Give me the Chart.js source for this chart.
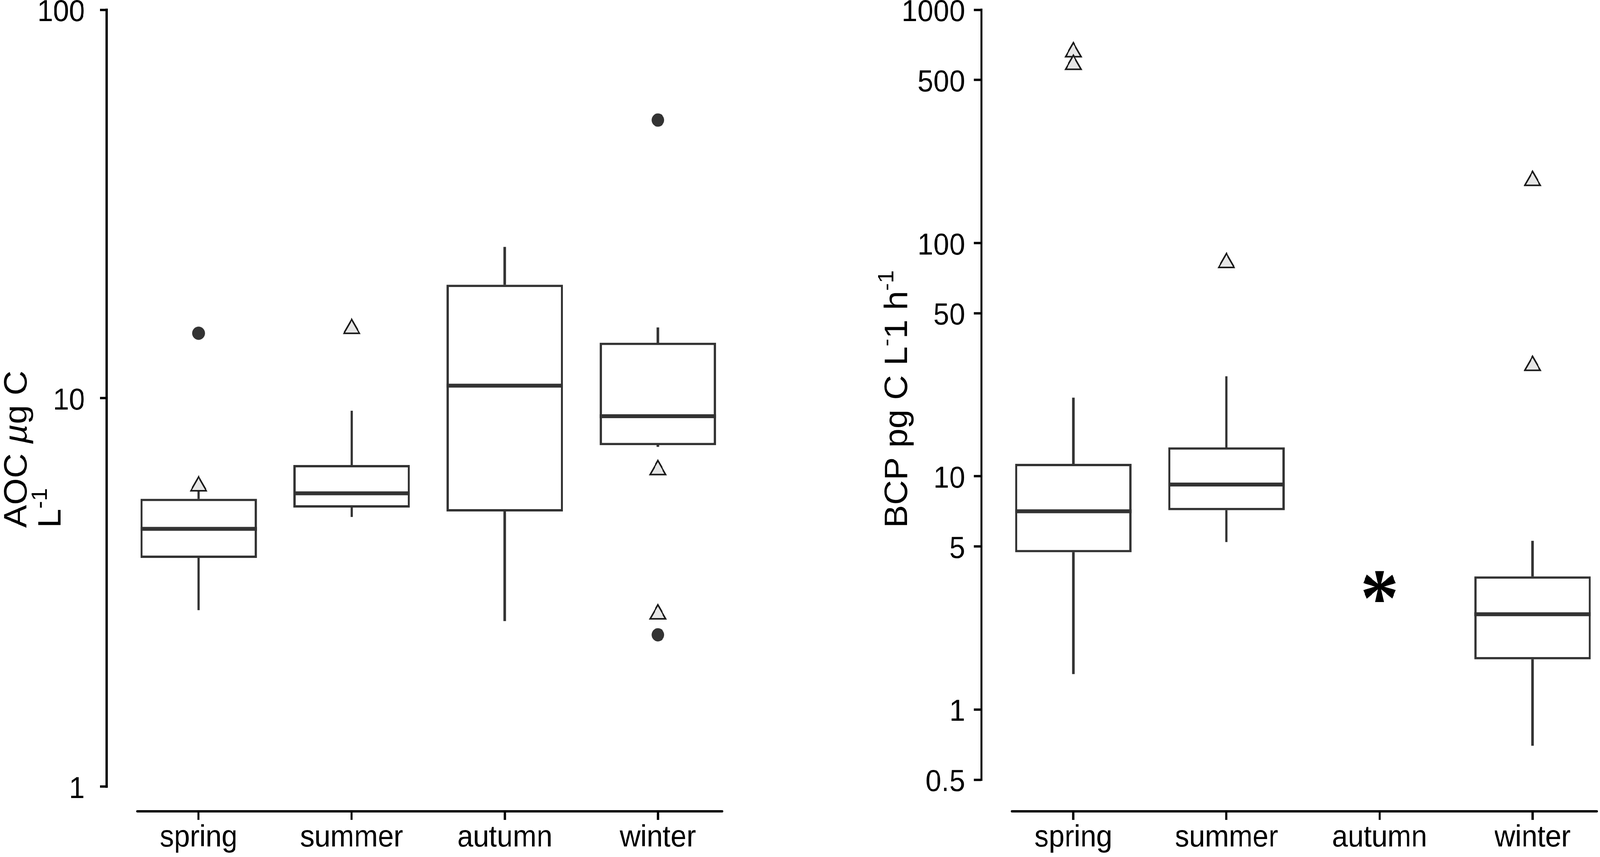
<!DOCTYPE html>
<html><head><meta charset="utf-8">
<script src="https://cdn.jsdelivr.net/npm/chart.js@4.4.1/dist/chart.umd.min.js"></script>
<style>
html,body{margin:0;padding:0;background:#fff;overflow:hidden;}
#stage{position:absolute;left:0;top:0;width:4317px;height:2195px;transform-origin:0 0;background:#fff;}
canvas{position:absolute;top:0;}
#c1{left:0}
#c2{left:2158px}
</style></head><body>
<div id="stage">
<canvas id="c1" width="2158" height="2195"></canvas>
<canvas id="c2" width="2159" height="2195"></canvas>
</div>
<script>
const seasons = ['spring','summer','autumn','winter'];

// Left panel: AOC (µg C L-1)
const aocWhiskerLow  = [2.85, 4.95, 2.67, 7.5];
const aocQ1          = [3.88, 5.23, 5.11, 7.57];
const aocMedian      = [4.61, 5.69, 10.77, 8.99];
const aocQ3          = [5.51, 6.73, 19.6, 13.9];
const aocWhiskerHigh = [5.75, 9.28, 24.5, 15.2];
const aocCircleSeason   = ['spring','winter','winter'];
const aocCircleValue    = [14.7, 52.0, 2.46];
const aocTriangleSeason = ['spring','summer','winter','winter'];
const aocTriangleValue  = [5.94, 15.1, 6.54, 2.78];
const aocTicks = [1, 10, 100];

// Right panel: BCP (pg C L-1 h-1)
const bcpWhiskerLow  = [1.42, 5.23, null, 0.70];
const bcpQ1          = [4.72, 7.15, null, 1.64];
const bcpMedian      = [7.08, 9.22, null, 2.56];
const bcpQ3          = [11.3, 13.3, null, 3.72];
const bcpWhiskerHigh = [21.7, 26.8, null, 5.28];
const bcpCircleSeason   = [];
const bcpCircleValue    = [];
const bcpTriangleSeason = ['spring','spring','summer','winter','winter'];
const bcpTriangleValue  = [659, 582, 82.3, 185, 29.8];
const bcpMarkSeason = ['autumn'];
const bcpMarkValue  = [3.37];
const bcpMarkText   = ['*'];
const bcpTicks = [0.5, 1, 5, 10, 50, 100, 500, 1000];

// Fit the 4317x2195 design into the actual viewport
const W = 4317, H = 2195;
const vw = document.documentElement.clientWidth || window.innerWidth || W;
const vh = document.documentElement.clientHeight || window.innerHeight || H;
document.getElementById('stage').style.transform = 'scale(' + (vw / W) + ',' + (vh / H) + ')';

const FONT = "'Liberation Sans', Arial, Helvetica, sans-serif";
const INK = '#333333';

const cappedAxes = {
  id: 'cappedAxes',
  afterDraw(chart, args, o) {
    const {ctx, chartArea: a, scales: {x, y}} = chart;
    ctx.save();
    ctx.strokeStyle = o.color; ctx.lineWidth = o.width; ctx.lineCap = 'butt';
    const yt = y.ticks.map(t => t.value);
    const yTop = y.getPixelForValue(Math.max(...yt));
    const yBot = y.getPixelForValue(Math.min(...yt));
    ctx.beginPath();
    ctx.moveTo(a.left, yTop - o.width / 2);
    ctx.lineTo(a.left, yBot + o.width / 2);
    ctx.stroke();
    ctx.lineCap = 'round';
    ctx.beginPath();
    ctx.moveTo(x.getPixelForValue(o.xFrom), a.bottom);
    ctx.lineTo(x.getPixelForValue(o.xTo), a.bottom);
    ctx.stroke();
    ctx.restore();
  }
};

const richTitle = {
  id: 'richTitle',
  afterDraw(chart, args, o) {
    const ctx = chart.ctx;
    o.lines.forEach((line, li) => {
      ctx.save();
      ctx.translate(o.x[li], o.y);
      ctx.rotate(-Math.PI / 2);
      ctx.fillStyle = o.color;
      ctx.textBaseline = 'alphabetic';
      ctx.textAlign = 'left';
      let cx = 0;
      line.forEach(seg => {
        const size = seg.sup ? o.size * 0.68 : o.size;
        ctx.font = (seg.italic ? 'italic ' : '') + size + 'px ' + o.family;
        ctx.fillText(seg.t, cx, seg.sup ? -o.size * 0.42 : 0);
        cx += ctx.measureText(seg.t).width;
      });
      ctx.restore();
    });
  }
};

const textMarks = {
  id: 'textMarks',
  afterDatasetsDraw(chart, args, o) {
    if (!o.text || !o.text.length) return;
    const {ctx, scales: {x, y}} = chart;
    ctx.save();
    ctx.fillStyle = o.color;
    ctx.textAlign = 'left';
    ctx.textBaseline = 'alphabetic';
    ctx.font = o.weight + ' 100px ' + o.family;
    const m = ctx.measureText('*');
    const size = 100 * o.glyphHeight / (m.actualBoundingBoxAscent + m.actualBoundingBoxDescent);
    ctx.font = o.weight + ' ' + size + 'px ' + o.family;
    o.text.forEach((t, i) => {
      const px = x.getPixelForValue(seasons.indexOf(o.season[i]) + 1);
      const py = y.getPixelForValue(o.value[i]);
      const mm = ctx.measureText(t);
      const offY = (mm.actualBoundingBoxAscent - mm.actualBoundingBoxDescent) / 2;
      const offX = (mm.actualBoundingBoxLeft - mm.actualBoundingBoxRight) / 2;
      ctx.fillText(t, px + offX, py + offY);
    });
    ctx.restore();
  }
};

function makeChart(id, d) {
  const pos = s => seasons.indexOf(s) + 1;
  const rows = seasons.map((s, i) => i).filter(i => d.q1[i] != null);
  const datasets = [
    { type: 'scatter', label: 'circles', order: 0,
      data: d.circleSeason.map((s, i) => ({x: pos(s), y: d.circleValue[i]})),
      pointStyle: 'circle', pointRadius: 17, pointBackgroundColor: INK, pointBorderColor: INK, pointBorderWidth: 0 },
    { type: 'scatter', label: 'triangles', order: 0,
      data: d.triSeason.map((s, i) => ({x: pos(s), y: d.triValue[i]})),
      pointStyle: 'triangle', pointRadius: 24, pointBackgroundColor: '#e6e6e6', pointBorderColor: '#1a1a1a', pointBorderWidth: 4 },
    { type: 'scatter', label: 'median', order: 1,
      data: rows.map(i => ({x: i + 1, y: d.med[i]})),
      pointStyle: 'line', pointRadius: 157, pointBorderColor: INK, pointBorderWidth: 10 },
    { type: 'bar', label: 'box', order: 2,
      data: rows.map(i => ({x: i + 1, y: [d.q1[i], d.q3[i]]})),
      backgroundColor: '#ffffff', borderColor: INK, borderWidth: 6, borderSkipped: false,
      grouped: false, barPercentage: 0.76, categoryPercentage: 1 },
    { type: 'bar', label: 'whiskerLow', order: 3,
      data: rows.map(i => ({x: i + 1, y: [d.lo[i], d.q1[i]]})),
      backgroundColor: INK, borderWidth: 0, grouped: false, barThickness: 6 },
    { type: 'bar', label: 'whiskerHigh', order: 3,
      data: rows.map(i => ({x: i + 1, y: [d.q3[i], d.hi[i]]})),
      backgroundColor: INK, borderWidth: 0, grouped: false, barThickness: 6 }
  ];
  return new Chart(document.getElementById(id), {
    type: 'bar',
    data: { datasets },
    plugins: [cappedAxes, richTitle, textMarks],
    options: {
      responsive: false, devicePixelRatio: 1, animation: false, events: [],
      layout: { autoPadding: false, padding: { top: 25, right: d.padRight, bottom: 0, left: 0 } },
      plugins: {
        legend: { display: false }, tooltip: { enabled: false },
        cappedAxes: { color: '#000', width: 6, xFrom: 0.6, xTo: 4.42 },
        richTitle: d.title,
        textMarks: d.marks
      },
      scales: {
        x: {
          type: 'linear', min: 0.4, max: d.xMax, offset: false,
          afterBuildTicks: s => { s.ticks = seasons.map((_, i) => ({value: i + 1})); },
          afterFit: s => { s.height = 117; s.paddingLeft = 0; s.paddingRight = 0; },
          ticks: { callback: v => seasons[v - 1], font: {family: FONT, size: 77}, color: '#000',
                   padding: 1, autoSkip: false, maxRotation: 0, minRotation: 0 },
          grid: { offset: false, drawOnChartArea: false, drawTicks: true, tickLength: 22, tickWidth: 6, tickColor: '#000' },
          border: { display: false }
        },
        y: {
          type: 'logarithmic', min: d.yMin, max: d.yMax,
          afterBuildTicks: s => { s.ticks = d.ticks.map(v => ({value: v})); },
          afterFit: s => { s.width = d.yWidth; s.paddingTop = 0; s.paddingBottom = 0; },
          ticks: { callback: v => String(v), font: {family: FONT, size: 77}, color: '#000',
                   padding: d.labelPad, labelOffset: 8, autoSkip: false },
          grid: { drawOnChartArea: false, drawTicks: true, tickLength: d.tickLen, tickWidth: 6, tickColor: '#000' },
          border: { display: false }
        }
      }
    }
  });
}

makeChart('c1', {
  lo: aocWhiskerLow, q1: aocQ1, med: aocMedian, q3: aocQ3, hi: aocWhiskerHigh,
  circleSeason: aocCircleSeason, circleValue: aocCircleValue,
  triSeason: aocTriangleSeason, triValue: aocTriangleValue,
  ticks: aocTicks, yMin: 0.864, yMax: 100, xMax: 4.6,
  yWidth: 288, padRight: 135, labelPad: 41, tickLen: 18,
  title: { family: FONT, size: 88, color: '#000', x: [72, 163], y: 1352,
           lines: [[{t: 'AOC '}, {t: 'µ', italic: true}, {t: 'g C'}], [{t: 'L'}, {t: '-1', sup: true}]] },
  marks: { text: [] }
});

makeChart('c2', {
  lo: bcpWhiskerLow, q1: bcpQ1, med: bcpMedian, q3: bcpQ3, hi: bcpWhiskerHigh,
  circleSeason: bcpCircleSeason, circleValue: bcpCircleValue,
  triSeason: bcpTriangleSeason, triValue: bcpTriangleValue,
  ticks: bcpTicks, yMin: 0.366, yMax: 1000, xMax: 4.44,
  yWidth: 490, padRight: 0, labelPad: 23, tickLen: 21,
  title: { family: FONT, size: 88, color: '#000', x: [289], y: 1352,
           lines: [[{t: 'BCP pg C L'}, {t: '-', sup: true}, {t: '1 h'}, {t: '-1', sup: true}]] },
  marks: { text: bcpMarkText, season: bcpMarkSeason, value: bcpMarkValue,
           color: '#000', weight: 'bold', family: "'Liberation Serif', 'Times New Roman', serif", glyphHeight: 80 }
});
</script>
</body></html>
